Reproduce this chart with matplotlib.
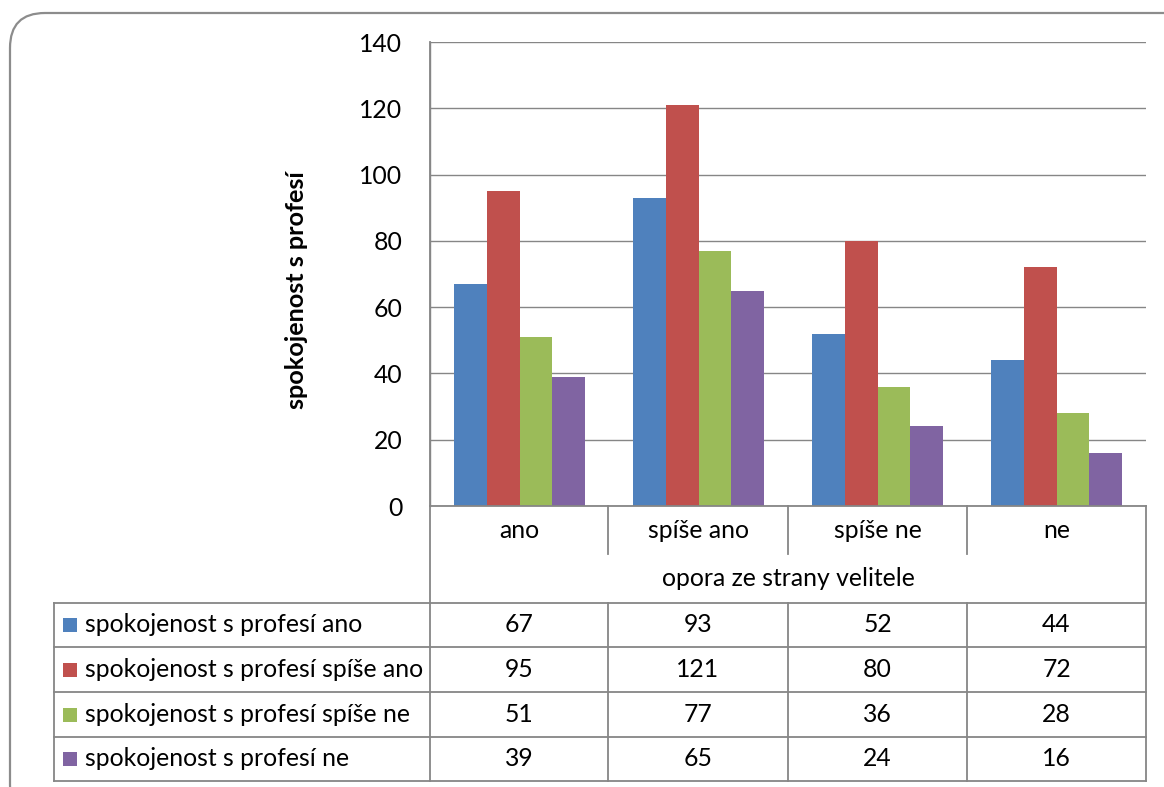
import matplotlib
matplotlib.use("Agg")
import matplotlib.pyplot as plt
from matplotlib.patches import FancyBboxPatch, Rectangle
from matplotlib.lines import Line2D

# Data
categories = ["ano", "spíše ano", "spíše ne", "ne"]
series_names = [
    "spokojenost s profesí ano",
    "spokojenost s profesí spíše ano",
    "spokojenost s profesí spíše ne",
    "spokojenost s profesí ne",
]
values_ano = [67, 93, 52, 44]
values_spise_ano = [95, 121, 80, 72]
values_spise_ne = [51, 77, 36, 28]
values_ne = [39, 65, 24, 16]
series_values = [values_ano, values_spise_ano, values_spise_ne, values_ne]
colors = ["#4F81BD", "#C0504D", "#9BBB59", "#8064A2"]
y_ticks = [0, 20, 40, 60, 80, 100, 120, 140]
x_title = "opora ze strany velitele"
y_title = "spokojenost s profesí"

W, H = 1164, 787
plt.rcParams["font.family"] = ["Lato", "DejaVu Sans"]
fig = plt.figure(figsize=(W / 100, H / 100), dpi=100)
fig.patch.set_facecolor("white")


def fx(x):
    return x / W


def fy(y):
    return 1 - y / H


GRID = "#868686"
FS = 17.8  # pt

# Outer rounded frame
frame = FancyBboxPatch((fx(10), fy(820)), fx(1200 - 10), fy(13) - fy(820),
                       boxstyle="round,pad=0,rounding_size=0.03",
                       transform=fig.transFigure, facecolor="none",
                       edgecolor="#8c8c8c", linewidth=1.6, mutation_aspect=W / H)
fig.patches.append(frame)

# Plot area
L, R, T, B = 430, 1146, 42, 506
ax = fig.add_axes([fx(L), fy(B), fx(R) - fx(L), fy(T) - fy(B)])
n = len(series_values)
bw = 1 / (n + 1.5)
for i, (vals, c) in enumerate(zip(series_values, colors)):
    xs = [k + (i - (n - 1) / 2) * bw for k in range(len(categories))]
    ax.bar(xs, vals, width=bw, color=c, edgecolor="none", zorder=3)

ax.set_xlim(-0.5, len(categories) - 0.5)
ax.set_ylim(0, 140)
ax.set_yticks(y_ticks)
ax.set_yticklabels([str(v) for v in y_ticks], fontsize=FS)
ax.tick_params(axis="y", length=0, pad=20)
ax.set_xticks([])
ax.grid(axis="y", color=GRID, linewidth=1.0, zorder=0)
for s in ["top", "right", "bottom"]:
    ax.spines[s].set_visible(False)
ax.spines["left"].set_color(GRID)
ax.spines["left"].set_linewidth(1.0)

fig.text(fx(296), fy(290), y_title, rotation=90, ha="center", va="center",
         fontsize=18.2, fontweight="bold")


def hline(x0, x1, y):
    fig.add_artist(Line2D([fx(x0), fx(x1)], [fy(y), fy(y)], color=GRID,
                          linewidth=1.3, transform=fig.transFigure))


def vline(x, y0, y1):
    fig.add_artist(Line2D([fx(x), fx(x)], [fy(y0), fy(y1)], color=GRID,
                          linewidth=1.3, transform=fig.transFigure))


# Category axis and data table
cols = [430, 608, 788, 967, 1146]
rows = [603, 647, 692, 737, 781]
TL = 54
hline(L, R, B)
vline(L, T, rows[-1])
vline(R, B, rows[-1])
for x in cols[1:-1]:
    vline(x, B, 554)
    vline(x, rows[0], rows[-1])
for y in rows:
    hline(TL, R, y)
vline(TL, rows[0], rows[-1])

for k, cat in enumerate(categories):
    fig.text(fx((cols[k] + cols[k + 1]) / 2), fy(530), cat, ha="center",
             va="center", fontsize=FS)
fig.text(fx((L + R) / 2), fy(578), x_title, ha="center", va="center", fontsize=FS)

for i, (name, vals, c) in enumerate(zip(series_names, series_values, colors)):
    yc = (rows[i] + rows[i + 1]) / 2
    fig.add_artist(Rectangle((fx(63), fy(yc + 7)), fx(14), fy(yc - 7) - fy(yc + 7),
                             transform=fig.transFigure, facecolor=c,
                             edgecolor="none"))
    fig.text(fx(85), fy(yc), name, ha="left", va="center", fontsize=FS)
    for k, v in enumerate(vals):
        fig.text(fx((cols[k] + cols[k + 1]) / 2), fy(yc), str(v), ha="center",
                 va="center", fontsize=FS)

fig.savefig("out.png", dpi=100, facecolor="white")
